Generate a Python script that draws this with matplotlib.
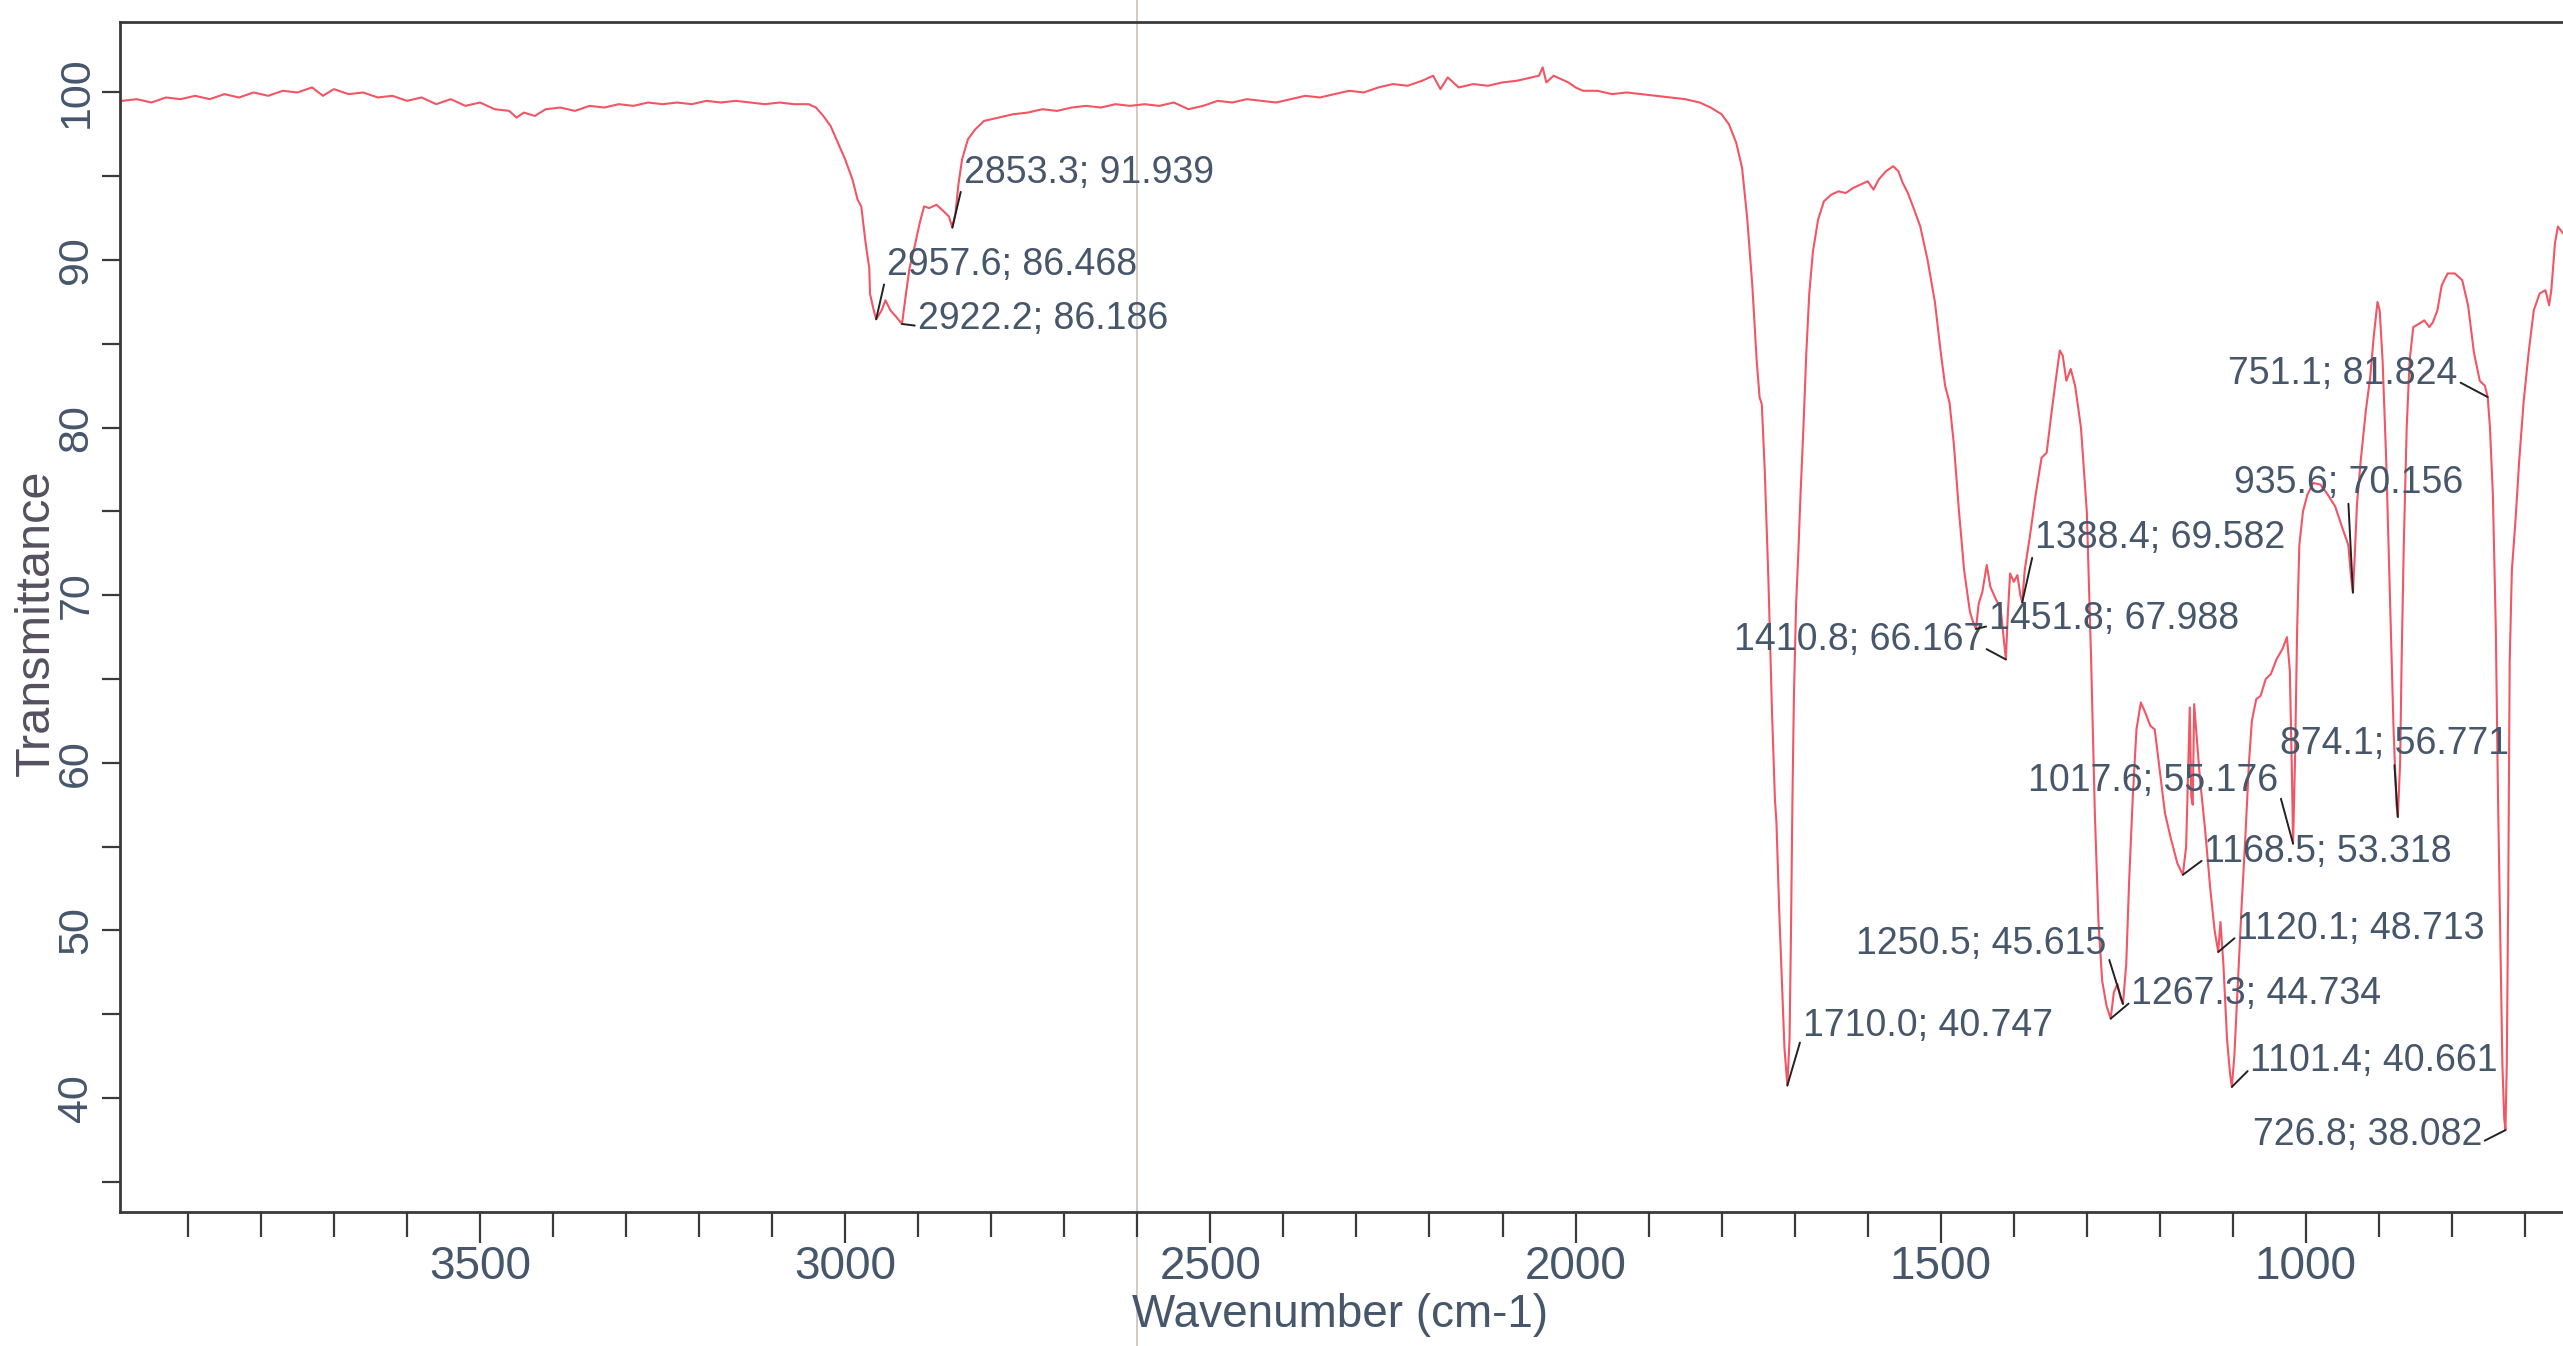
import matplotlib
matplotlib.use("Agg")
import matplotlib.pyplot as plt
from matplotlib.ticker import MultipleLocator

# IR spectrum: wavenumber (cm-1) and transmittance (%)
wavenumber = [
    3990, 3970, 3950, 3930, 3910, 3890, 3870, 3850, 3830, 3810, 3790, 3770,
    3750, 3730, 3715, 3700, 3680, 3660, 3640, 3620, 3600, 3580, 3560, 3540,
    3520, 3500, 3480, 3460, 3450, 3440, 3425, 3410, 3390, 3370, 3350, 3330,
    3310, 3290, 3270, 3250, 3230, 3210, 3190, 3170, 3150, 3130, 3110, 3090,
    3070, 3050, 3040, 3030, 3020, 3010, 3000, 2990, 2983, 2978, 2972, 2967,
    2966, 2962, 2957.6, 2950, 2945, 2938, 2930, 2922.2, 2918, 2912, 2905,
    2898, 2892, 2885, 2875, 2865, 2858, 2853.3, 2849, 2845, 2840, 2832, 2822,
    2810, 2790, 2770, 2750, 2730, 2710, 2690, 2670, 2650, 2630, 2610, 2590,
    2570, 2550, 2530, 2510, 2490, 2470, 2450, 2430, 2410, 2390, 2370, 2350,
    2330, 2310, 2290, 2270, 2250, 2230, 2210, 2195, 2185, 2175, 2160, 2140,
    2120, 2100, 2080, 2060, 2050, 2045, 2040, 2030, 2020, 2010, 2000, 1990,
    1970, 1950, 1930, 1910, 1890, 1870, 1850, 1830, 1815, 1800, 1790, 1780,
    1772, 1765, 1758, 1752, 1748, 1745, 1741, 1736, 1731, 1727, 1725, 1721,
    1717, 1714, 1710.0, 1707, 1705, 1703, 1701, 1698, 1695, 1692, 1688, 1684,
    1680, 1675, 1668, 1660, 1650, 1640, 1630, 1620, 1610, 1600, 1592, 1585,
    1575, 1565, 1558, 1552, 1545, 1538, 1528, 1518, 1508, 1500, 1494, 1488,
    1482, 1475, 1468, 1460, 1455, 1451.8, 1448, 1443, 1437, 1432, 1425, 1418,
    1414, 1410.8, 1408, 1405, 1400, 1395, 1391, 1388.4, 1385, 1378, 1370,
    1362, 1355, 1348, 1342, 1337, 1333, 1328, 1322, 1316, 1308, 1300, 1294,
    1289, 1284, 1279, 1273, 1267.3, 1263, 1258, 1254, 1250.5, 1246, 1242,
    1237, 1232, 1226, 1220, 1213, 1207, 1200, 1193, 1185, 1176, 1168.5, 1164,
    1161, 1159, 1157, 1155, 1153, 1150, 1145, 1138, 1131, 1125, 1120.1, 1117,
    1113, 1108, 1104, 1101.4, 1098, 1093, 1088, 1083, 1078, 1074, 1068, 1062,
    1055, 1048, 1040, 1032, 1026, 1022, 1019, 1017.6, 1015, 1012, 1009, 1004,
    998, 990, 980, 970, 960, 950, 942, 938, 935.6, 933, 930, 925, 918, 912,
    907, 902, 899, 895, 890, 885, 880, 876, 874.1, 871, 869, 866, 862, 858,
    853, 845, 838, 831, 826, 820, 814, 806, 796, 786, 778, 770, 762, 755,
    751.1, 748, 744, 740, 737, 734, 731, 728.5, 726.8, 725, 723, 721, 718,
    713, 708, 702, 695, 688, 680, 672, 667, 664, 659, 655, 648,
]
transmittance = [
    99.5, 99.6, 99.4, 99.7, 99.6, 99.8, 99.6, 99.9, 99.7, 100.0, 99.8, 100.1,
    100.0, 100.3, 99.8, 100.2, 99.9, 100.0, 99.7, 99.8, 99.5, 99.7, 99.3, 99.6,
    99.2, 99.4, 99.0, 98.9, 98.5, 98.8, 98.6, 99.0, 99.1, 98.9, 99.2, 99.1,
    99.3, 99.2, 99.4, 99.3, 99.4, 99.3, 99.5, 99.4, 99.5, 99.4, 99.3, 99.4,
    99.3, 99.3, 99.1, 98.6, 98.0, 97.0, 96.0, 94.8, 93.6, 93.2, 91.0, 89.5,
    88.0, 87.2, 86.468, 87.0, 87.6, 87.0, 86.6, 86.186, 87.6, 89.5, 90.8,
    92.2, 93.2, 93.1, 93.3, 92.9, 92.6, 91.939, 92.8, 94.5, 96.0, 97.2, 97.8,
    98.3, 98.5, 98.7, 98.8, 99.0, 98.9, 99.1, 99.2, 99.1, 99.3, 99.2, 99.3,
    99.2, 99.4, 99.0, 99.2, 99.5, 99.4, 99.6, 99.5, 99.4, 99.6, 99.8, 99.7,
    99.9, 100.1, 100.0, 100.3, 100.5, 100.4, 100.7, 101.0, 100.2, 100.9, 100.3, 100.5,
    100.4, 100.6, 100.7, 100.9, 101.0, 101.5, 100.6, 101.0, 100.8, 100.6, 100.3, 100.1,
    100.1, 99.9, 100.0, 99.9, 99.8, 99.7, 99.6, 99.4, 99.1, 98.7, 98.1, 97.0,
    95.5, 92.5, 88.5, 84.0, 81.8, 81.4, 77.5, 71.0, 63.0, 57.8, 56.5, 51.0,
    46.5, 43.0, 40.747, 43.5, 50.0, 58.0, 64.0, 69.5, 72.5, 76.0, 80.0, 84.5,
    88.0, 90.5, 92.4, 93.5, 93.9, 94.1, 94.0, 94.3, 94.5, 94.7, 94.2, 94.8,
    95.3, 95.6, 95.3, 94.6, 94.0, 93.2, 92.0, 90.0, 87.5, 84.5, 82.5, 81.5,
    79.0, 75.0, 71.5, 69.0, 68.3, 67.988, 69.5, 70.2, 71.8, 70.5, 69.8, 69.2,
    67.5, 66.167, 69.0, 71.3, 70.8, 71.2, 70.0, 69.582, 71.5, 73.5, 76.0,
    78.2, 78.5, 81.0, 83.0, 84.6, 84.3, 82.8, 83.5, 82.5, 80.0, 75.0, 66.0,
    57.0, 50.5, 47.0, 45.5, 44.734, 46.3, 46.8, 46.0, 45.615, 48.0, 53.0,
    58.0, 62.0, 63.6, 63.0, 62.2, 62.0, 59.5, 57.0, 55.5, 54.0, 53.318, 55.0,
    60.0, 63.3, 58.0, 57.5, 63.5, 61.8, 59.0, 56.0, 52.5, 50.0, 48.713, 50.5,
    48.0, 43.5, 41.5, 40.661, 42.5, 47.0, 51.5, 55.5, 60.0, 62.5, 63.8, 64.0,
    65.0, 65.3, 66.2, 66.8, 67.5, 65.5, 59.0, 55.176, 60.0, 68.0, 73.0, 75.0,
    76.0, 76.7, 76.6, 76.0, 75.3, 74.0, 73.0, 71.0, 70.156, 72.5, 75.5, 78.0, 81.0, 83.0,
    85.5, 87.5, 87.0, 84.0, 78.0, 70.0, 62.0, 57.5, 56.771, 60.0, 66.0, 73.0, 80.0, 84.0,
    86.0, 86.2, 86.4, 86.0, 86.3, 87.0, 88.5, 89.2, 89.2, 88.8, 87.3, 84.5, 82.8, 82.5,
    81.824, 80.0, 76.0, 68.0, 58.0, 50.0, 42.0, 38.8, 38.082, 42.0, 52.0, 66.0, 71.5,
    74.5, 78.0, 81.5, 84.5, 87.0, 88.0, 88.2, 87.3, 88.2, 91.0, 92.0, 91.6,
]

# peak labels: peak position and where the label text sits
peak_wn = [2853.3, 2957.6, 2922.2, 1710.0, 1410.8, 1451.8, 1388.4, 1250.5, 1267.3,
           1017.6, 1168.5, 1120.1, 1101.4, 874.1, 935.6, 751.1, 726.8]
peak_t = [91.939, 86.468, 86.186, 40.747, 66.167, 67.988, 69.582, 45.615, 44.734,
          55.176, 53.318, 48.713, 40.661, 56.771, 70.156, 81.824, 38.082]
label_wn = [2838, 2943, 2901, 1689, 1441, 1434, 1371, 1273, 1239,
            1038, 1139, 1094, 1076, 879, 942, 792, 759]
label_t = [95.2, 89.7, 86.5, 44.3, 67.3, 68.6, 73.4, 49.2, 46.2,
           58.9, 54.7, 50.1, 42.2, 61.1, 76.7, 83.2, 37.8]
label_ha = ["left", "left", "left", "left", "right", "left", "left", "right", "left",
            "right", "left", "left", "left", "center", "center", "right", "right"]

plt.rcParams["font.family"] = ["Liberation Sans", "DejaVu Sans"]

TEXT = "#46566b"
SPINE = "#3a3a3a"

fig = plt.figure(figsize=(25.63, 13.46), dpi=100)
ax = fig.add_axes([0.0468, 0.0996, 0.9532, 0.884])

# faint scan artefact: vertical line through the whole sheet
ax.axvline(2600, ymin=-0.12, ymax=1.05, color="#cfc6bd", lw=1.3, clip_on=False, zorder=0)

ax.plot(wavenumber, transmittance, color="#f25563", lw=1.5, zorder=2)

# leader starts at the text corner nearest the peak
relpos = {"left": (0.0, 0.3), "right": (1.0, 0.3), "center": (0.5, 0.0)}
for wn, t, lx, ly, ha in zip(peak_wn, peak_t, label_wn, label_t, label_ha):
    ax.annotate(f"{wn:.1f}; {t:.3f}", xy=(wn, t), xytext=(lx, ly),
                ha=ha, va="center", fontsize=27, color=TEXT, zorder=3,
                arrowprops=dict(arrowstyle="-", color="#222222", lw=1.4,
                                shrinkA=0, shrinkB=0, relpos=relpos[ha]))

ax.set_xlim(3993, 648)
ax.set_ylim(33.2, 104.2)

ax.xaxis.set_major_locator(MultipleLocator(500))
ax.xaxis.set_minor_locator(MultipleLocator(100))
ax.yaxis.set_major_locator(MultipleLocator(10))
ax.yaxis.set_minor_locator(MultipleLocator(5))

ax.tick_params(axis="x", which="major", length=22, width=1.6, pad=2,
               labelsize=33, color=SPINE, labelcolor=TEXT)
ax.tick_params(axis="x", which="minor", length=18, width=1.6, color=SPINE)
ax.tick_params(axis="y", which="both", length=13, width=1.6, pad=4,
               labelsize=31, color=SPINE, labelcolor=TEXT, labelrotation=90)
for lbl in ax.get_yticklabels():
    lbl.set_va("center")

for side in ["left", "bottom", "top"]:
    ax.spines[side].set_color(SPINE)
    ax.spines[side].set_linewidth(2)
ax.spines["right"].set_visible(False)

ax.set_xlabel("Wavenumber (cm-1)", fontsize=33, color=TEXT)
ax.xaxis.set_label_coords(0.4994, -0.068)
ax.set_ylabel("Transmittance", fontsize=35, color="#55505f")
ax.yaxis.set_label_coords(-0.025, 0.495)

fig.savefig("out.png", dpi=100)
